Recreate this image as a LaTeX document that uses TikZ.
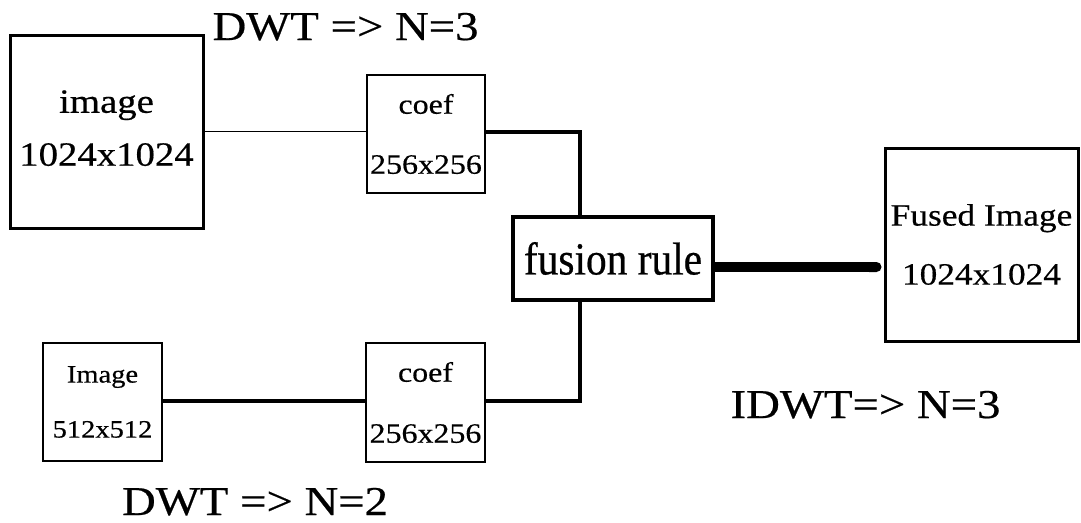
\documentclass[tikz,border=0pt]{standalone}
\usepackage{fontspec}
\usetikzlibrary{arrows.meta}
\setmainfont{Liberation Serif}[FakeStretch=1.14, FakeBold=0.5]
\newfontfamily\narrowfont{Liberation Serif}[FakeStretch=0.9, FakeBold=0.5]
\begin{document}
\begin{tikzpicture}[x=1pt,y=-1pt,
  box/.style={draw, rectangle, inner sep=0pt, align=center, line width=#1},
  box/.default=1.5pt,
  lbl/.style={anchor=base, inner sep=0pt, font=\fontsize{41}{41}\selectfont},
  thinline/.style={line width=1pt},
  thickline/.style={line width=3.5pt},
  heavyline/.style={line width=10pt, -{Round Cap[]}, shorten >=2pt}]
\useasboundingbox (0,0) rectangle (1081,522);

\node[box=3pt, minimum width=193pt, minimum height=193pt,
  font=\fontsize{34}{55}\selectfont] (img1) at (106.5,131.5) {\raisebox{7pt}{\shortstack{image\\[20pt]1024x1024}}};
\node[box, minimum width=118pt, minimum height=118pt,
  font=\fontsize{28}{60}\selectfont] (coef1) at (426,134) {coef\\256x256};
\node[box, minimum width=119pt, minimum height=118pt,
  font=\fontsize{25}{55}\selectfont] (img2) at (102.5,402) {Image\\512x512};
\node[box, minimum width=119pt, minimum height=119pt,
  font=\fontsize{28}{61}\selectfont] (coef2) at (425.5,402.5) {coef\\256x256};
\node[box=4pt, minimum width=200pt, minimum height=83pt,
  font=\narrowfont\fontsize{46}{46}\selectfont] (fusion) at (613,258.5) {fusion rule};
\node[box=3pt, minimum width=193pt, minimum height=193pt,
  font=\fontsize{31}{59}\selectfont] (fused) at (981.5,244.5) {Fused Image\\1024x1024};

\node[lbl] (t1) at (345.5,40) {DWT => N=3};
\node[lbl] (t2) at (255,515) {DWT => N=2};
\node[lbl] (t3) at (865.5,418) {IDWT=> N=3};

\coordinate (jx) at (580,0);
\coordinate (ly) at (0,267);

\draw[thinline] (coef1.west |- 0,131) coordinate (c1w) (img1.east |- c1w) -- (c1w);
\draw[thickline] (coef1.east |- 0,132) -| (jx |- fusion.north);
\draw[thickline] (img2.east |- 0,401) -- (coef2.west |- 0,401);
\draw[thickline] (coef2.east |- 0,401) -| (jx |- fusion.south);
\draw[heavyline] (fusion.east |- ly) -- (fused.west |- ly);
\end{tikzpicture}
\end{document}
